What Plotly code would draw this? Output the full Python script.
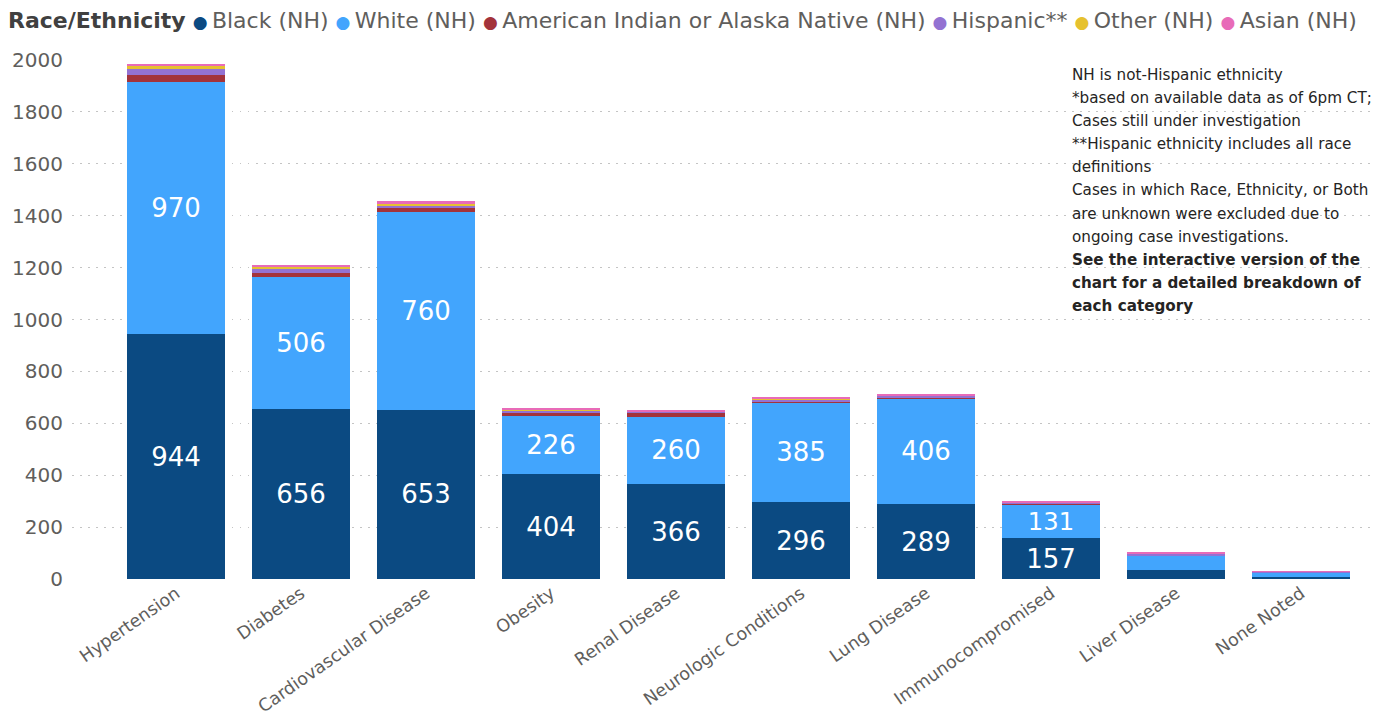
import plotly.graph_objects as go

categories = ["Hypertension", "Diabetes", "Cardiovascular Disease", "Obesity", "Renal Disease",
              "Neurologic Conditions", "Lung Disease", "Immunocompromised", "Liver Disease", "None Noted"]

black_nh = [944, 656, 653, 404, 366, 296, 289, 157, 35, 6]
white_nh = [970, 506, 760, 226, 260, 385, 406, 131, 55, 20]
aian_nh = [27, 19, 15, 9, 15, 3, 4, 1, 1, 0]
hispanic = [26, 12, 10, 8, 3, 8, 7, 6, 7, 2]
other_nh = [8, 8, 8, 8, 2, 2, 1, 1, 2, 1]
asian_nh = [10, 8, 10, 3, 2, 4, 6, 2, 3, 1]

# labelled segments (Power BI shows labels only where they fit)
label_black = [True, True, True, True, True, True, True, True, False, False]
label_white = [True, True, True, True, True, True, True, True, False, False]

series = [
    ("Black (NH)", black_nh, "#0B4A82", label_black),
    ("White (NH)", white_nh, "#42A5FD", label_white),
    ("American Indian or Alaska Native (NH)", aian_nh, "#A3333B", None),
    ("Hispanic**", hispanic, "#9372D2", None),
    ("Other (NH)", other_nh, "#E6C12F", None),
    ("Asian (NH)", asian_nh, "#E86BB8", None),
]

note_lines = [
    "NH is not-Hispanic ethnicity",
    "*based on available data as of 6pm CT;",
    "Cases still under investigation",
    "**Hispanic ethnicity includes all race",
    "definitions",
    "Cases in which Race, Ethnicity, or Both",
    "are unknown were excluded due to",
    "ongoing case investigations.",
    "<b>See the interactive version of the</b>",
    "<b>chart for a detailed breakdown of</b>",
    "<b>each category</b>",
]

FONT = "DejaVu Sans"
OFF = 8  # page body margin
W, H = 1382 - OFF, 716 - OFF
ML, MR, MT, MB = 72 - OFF, 2, 60 - OFF, H - (579 - OFF)
plot_w = W - ML - MR
plot_h = H - MT - MB
CAT0 = 176 - OFF  # centre of first category, figure px
STEP = 125

fig = go.Figure()
for name, vals, color, lab in series:
    if lab is not None:
        text = [str(v) if show else "" for v, show in zip(vals, lab)]
    else:
        text = None
    fig.add_trace(go.Bar(
        x=categories, y=vals, name=name, marker=dict(color=color, line=dict(width=0)),
        text=text, textposition="inside" if text else "none", insidetextanchor="middle",
        textangle=0, textfont=dict(color="white", size=26, family=FONT),
        showlegend=False,
    ))

def px_x(p):
    return (p - OFF - ML) / plot_w

def px_y(p):
    return (H - MB - (p - OFF)) / plot_h

annotations = []
# legend line as text
legend_parts = ['<b><span style="color:#404040">Race/Ethnicity</span></b>']
for name, vals, color, lab in series:
    legend_parts.append(f'<span style="color:{color};font-size:17px">●</span>\u2009{name}')
annotations.append(dict(
    text=" ".join(legend_parts), xref="paper", yref="paper",
    x=px_x(6), y=px_y(21), xanchor="left", yanchor="middle", showarrow=False,
    font=dict(family=FONT, size=22, color="#605E5C"),
))
for i, line in enumerate(note_lines):
    annotations.append(dict(
        text=line, xref="paper", yref="paper", x=px_x(1070), y=px_y(75 + i * 23.1),
        xanchor="left", yanchor="middle", showarrow=False,
        font=dict(family=FONT, size=15.2, color="#252423"),
    ))

fig.update_layout(
    barmode="stack", bargap=0.216,
    width=W, height=H,
    margin=dict(l=ML, r=MR, t=MT, b=MB, autoexpand=False),
    plot_bgcolor="white", paper_bgcolor="white",
    font=dict(family=FONT, color="#605E5C"),
    annotations=annotations,
    showlegend=False,
)
fig.update_xaxes(
    range=[-(CAT0 - ML) / STEP, (W - MR - CAT0) / STEP],
    tickangle=-35, tickfont=dict(size=17.5, color="#605E5C"),
    showgrid=False, showline=False, ticks="", automargin=False,
)
fig.update_yaxes(
    range=[0, 2000], dtick=200, tickfont=dict(size=20, color="#605E5C"),
    showgrid=True, gridcolor="#C4C4C4", griddash="1.5px,6.5px", gridwidth=1,
    zeroline=False, showline=False, ticks="", ticklabelstandoff=8, automargin=False,
)

fig.write_html("out.html")
